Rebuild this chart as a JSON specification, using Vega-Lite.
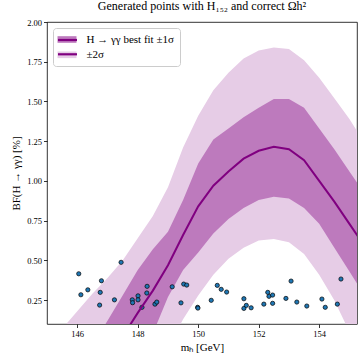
{
  "$schema": "https://vega.github.io/schema/vega-lite/v6.json",
  "width": 310,
  "height": 302,
  "autosize": {"type": "none"},
  "padding": {"left": 47, "top": 22, "right": 6, "bottom": 39},
  "background": "white",
  "title": {"text": "Generated points with H₁₅₂ and correct Ωh²", "font": "Liberation Serif", "fontSize": 12, "fontWeight": "normal", "color": "black", "offset": 5},
  "config": {
    "view": {"stroke": "black", "strokeWidth": 0.8},
    "axis": {"labelFont": "Liberation Serif", "labelFontSize": 8.5, "labelColor": "black", "titleFont": "Liberation Serif", "titleFontSize": 11, "titleFontWeight": "normal", "titleColor": "black", "tickColor": "black", "tickWidth": 0.8, "tickSize": 3.5, "domain": false, "grid": false, "labelPadding": 2},
    "legend": {"labelFont": "Liberation Serif", "labelFontSize": 11, "labelColor": "black"}
  },
  "datasets": {
    "bands": [
      {"m": 145.0, "lo2": -1.2, "lo1": -0.9, "mid": -0.8, "hi1": -0.5, "hi2": -0.04},
      {"m": 145.5, "lo2": -1.1, "lo1": -0.8, "mid": -0.65, "hi1": -0.35, "hi2": 0.07},
      {"m": 146.0, "lo2": -1.0, "lo1": -0.7, "mid": -0.5, "hi1": -0.2, "hi2": 0.18},
      {"m": 146.5, "lo2": -0.85, "lo1": -0.6, "mid": -0.35, "hi1": -0.03, "hi2": 0.29},
      {"m": 147.0, "lo2": -0.7, "lo1": -0.45, "mid": -0.15, "hi1": 0.12, "hi2": 0.39},
      {"m": 147.5, "lo2": -0.55, "lo1": -0.3, "mid": 0.02, "hi1": 0.28, "hi2": 0.5},
      {"m": 148.0, "lo2": -0.4, "lo1": -0.12, "mid": 0.17, "hi1": 0.44, "hi2": 0.64},
      {"m": 148.5, "lo2": -0.25, "lo1": 0.04, "mid": 0.31, "hi1": 0.57, "hi2": 0.78},
      {"m": 149.0, "lo2": -0.05, "lo1": 0.27, "mid": 0.47, "hi1": 0.68, "hi2": 0.96},
      {"m": 149.5, "lo2": 0.13, "lo1": 0.44, "mid": 0.66, "hi1": 0.88, "hi2": 1.21},
      {"m": 150.0, "lo2": 0.28, "lo1": 0.55, "mid": 0.84, "hi1": 1.11, "hi2": 1.41},
      {"m": 150.5, "lo2": 0.41, "lo1": 0.67, "mid": 0.97, "hi1": 1.26, "hi2": 1.57},
      {"m": 151.0, "lo2": 0.51, "lo1": 0.76, "mid": 1.06, "hi1": 1.33, "hi2": 1.68},
      {"m": 151.5, "lo2": 0.58, "lo1": 0.83, "mid": 1.14, "hi1": 1.4, "hi2": 1.77},
      {"m": 152.0, "lo2": 0.625, "lo1": 0.88, "mid": 1.19, "hi1": 1.46, "hi2": 1.82},
      {"m": 152.5, "lo2": 0.635, "lo1": 0.9, "mid": 1.215, "hi1": 1.515, "hi2": 1.84},
      {"m": 153.0, "lo2": 0.615, "lo1": 0.89, "mid": 1.2, "hi1": 1.515, "hi2": 1.83},
      {"m": 153.5, "lo2": 0.54, "lo1": 0.83, "mid": 1.13, "hi1": 1.46, "hi2": 1.76},
      {"m": 154.0, "lo2": 0.41, "lo1": 0.73, "mid": 1.0, "hi1": 1.33, "hi2": 1.65},
      {"m": 154.5, "lo2": 0.25, "lo1": 0.58, "mid": 0.87, "hi1": 1.2, "hi2": 1.52},
      {"m": 155.0, "lo2": 0.05, "lo1": 0.43, "mid": 0.73, "hi1": 1.06, "hi2": 1.39},
      {"m": 155.5, "lo2": -0.15, "lo1": 0.28, "mid": 0.59, "hi1": 0.92, "hi2": 1.24}
    ],
    "points": [
      {"m": 146.05, "bf": 0.416}, {"m": 147.45, "bf": 0.488}, {"m": 146.8, "bf": 0.372}, {"m": 146.35, "bf": 0.315},
      {"m": 146.12, "bf": 0.284}, {"m": 146.76, "bf": 0.299}, {"m": 146.74, "bf": 0.219}, {"m": 147.23, "bf": 0.252},
      {"m": 147.82, "bf": 0.252}, {"m": 147.83, "bf": 0.234}, {"m": 148.01, "bf": 0.277}, {"m": 148.01, "bf": 0.252},
      {"m": 148.31, "bf": 0.337}, {"m": 148.3, "bf": 0.295}, {"m": 148.57, "bf": 0.225}, {"m": 148.63, "bf": 0.238},
      {"m": 148.14, "bf": 0.205}, {"m": 149.14, "bf": 0.334}, {"m": 149.52, "bf": 0.351}, {"m": 149.62, "bf": 0.345},
      {"m": 149.43, "bf": 0.233}, {"m": 149.98, "bf": 0.205}, {"m": 149.99, "bf": 0.2}, {"m": 150.43, "bf": 0.249},
      {"m": 150.63, "bf": 0.343}, {"m": 150.76, "bf": 0.318}, {"m": 150.94, "bf": 0.301}, {"m": 151.51, "bf": 0.259},
      {"m": 151.51, "bf": 0.198}, {"m": 151.59, "bf": 0.217}, {"m": 151.75, "bf": 0.202}, {"m": 152.17, "bf": 0.225},
      {"m": 152.3, "bf": 0.299}, {"m": 152.34, "bf": 0.274}, {"m": 152.46, "bf": 0.282}, {"m": 152.46, "bf": 0.23},
      {"m": 152.9, "bf": 0.261}, {"m": 153.07, "bf": 0.37}, {"m": 153.26, "bf": 0.238}, {"m": 153.59, "bf": 0.213},
      {"m": 154.09, "bf": 0.257}, {"m": 154.2, "bf": 0.205}, {"m": 154.6, "bf": 0.225}, {"m": 154.72, "bf": 0.383}
    ]
  },
  "layer": [
    {
      "data": {"name": "bands"},
      "mark": {"type": "area", "clip": true},
      "encoding": {
        "x": {"field": "m", "type": "quantitative", "scale": {"domain": [145, 155.25], "nice": false, "zero": false},
              "axis": {"values": [146, 148, 150, 152, 154], "format": "d", "title": "mₕ [GeV]", "titlePadding": 3}},
        "y": {"field": "hi2", "type": "quantitative", "scale": {"domain": [0.1, 2.0], "nice": false, "zero": false},
              "axis": {"values": [0.25, 0.5, 0.75, 1.0, 1.25, 1.5, 1.75, 2.0], "format": ".2f", "title": "BF(H → γγ) [%]", "titlePadding": 5}},
        "y2": {"field": "lo2"},
        "fill": {"datum": "±2σ", "type": "nominal",
                 "scale": {"domain": ["H → γγ best fit ±1σ", "±2σ"], "range": ["#bd7abd", "#e6cce6"]},
                 "legend": {"title": null, "orient": "none", "legendX": 6, "legendY": 6, "padding": 6, "symbolOffset": 2.5,
                            "symbolType": "M-2,-0.7H2V0.7H-2Z", "symbolSize": 90, "symbolStrokeWidth": 0, "labelOffset": 14, "rowPadding": 3.3,
                            "strokeColor": "#cccccc", "cornerRadius": 3, "fillColor": "transparent"}}
      }
    },
    {
      "data": {"name": "bands"},
      "mark": {"type": "area", "clip": true},
      "encoding": {
        "x": {"field": "m", "type": "quantitative"},
        "y": {"field": "hi1", "type": "quantitative"},
        "y2": {"field": "lo1"},
        "fill": {"datum": "H → γγ best fit ±1σ", "type": "nominal"}
      }
    },
    {
      "data": {"name": "points"},
      "mark": {"type": "point", "shape": "circle", "filled": true, "size": 18, "fill": "#1f77b4", "stroke": "black", "strokeWidth": 0.7, "opacity": 1, "clip": true},
      "encoding": {
        "x": {"field": "m", "type": "quantitative"},
        "y": {"field": "bf", "type": "quantitative"}
      }
    },
    {
      "data": {"name": "bands"},
      "mark": {"type": "line", "clip": true, "strokeWidth": 2},
      "encoding": {
        "x": {"field": "m", "type": "quantitative"},
        "y": {"field": "mid", "type": "quantitative"},
        "stroke": {"datum": "H → γγ best fit ±1σ ", "type": "nominal",
                   "scale": {"domain": ["H → γγ best fit ±1σ ", "±2σ "], "range": ["#800080", "#800080"]},
                   "legend": {"title": null, "orient": "none", "legendX": 6, "legendY": 6, "padding": 6, "symbolOffset": 2.5,
                              "symbolType": "M-2,0H2", "symbolSize": 90, "symbolStrokeWidth": 2.2, "symbolFillColor": "transparent",
                              "labelOffset": 14, "rowPadding": 3.3, "labelExpr": "' '", "strokeColor": "transparent", "fillColor": "transparent"}}
      }
    }
  ]
}
